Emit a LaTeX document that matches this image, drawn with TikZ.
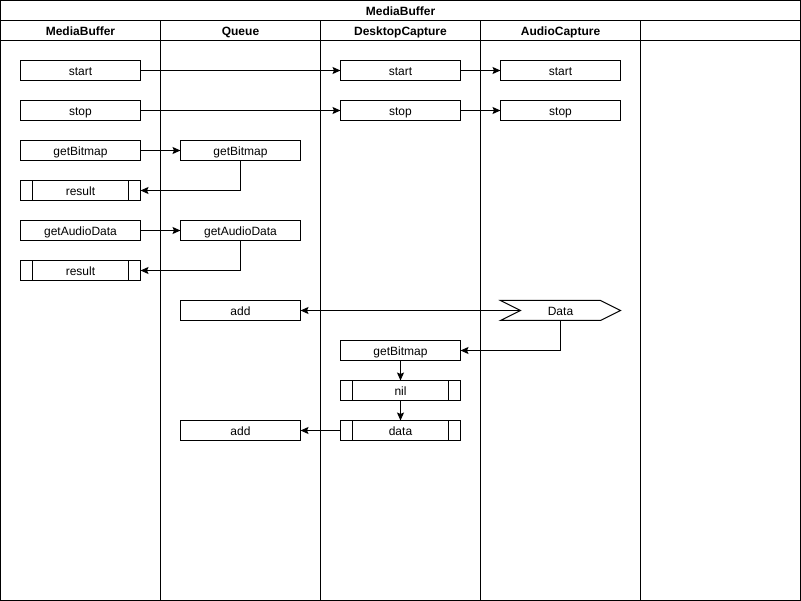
\documentclass[tikz,border=0pt]{standalone}
\usepackage{fontspec}
\setmainfont{Liberation Sans}
\usetikzlibrary{arrows.meta}
\begin{document}
\begin{tikzpicture}[x=1pt,y=-1pt,line width=1pt,
  font=\fontsize{12}{14}\selectfont,
  lbl/.style={text height=11pt,text depth=0pt,inner sep=0pt,outer sep=0pt},
  box/.style={lbl,draw,minimum width=120pt,minimum height=20pt,anchor=north west},
  procbox/.style={box,
    path picture={
      \draw[line width=1pt]
        ([xshift=12pt]path picture bounding box.north west) -- ([xshift=12pt]path picture bounding box.south west)
        ([xshift=-12pt]path picture bounding box.north east) -- ([xshift=-12pt]path picture bounding box.south east);}},
  flow/.style={draw,-{Stealth[length=8pt,width=7pt,inset=1.5pt]}},
  hdr/.style={lbl,font=\fontsize{12}{14}\selectfont\bfseries}]
\useasboundingbox (0,0) rectangle (801,601);

% pool frame, title and lane headers
\draw (0.5,0.5) rectangle (800.5,600.5);
\draw (0.5,20.5) -- (800.5,20.5);
\draw (0.5,40.5) -- (800.5,40.5);
\foreach \x in {160,320,480,640} \draw (\x.5,20.5) -- (\x.5,600.5);
\node[hdr] (title) at (400.5,10.5) {MediaBuffer};
\node[hdr] (hmb) at (80.5,30.5) {MediaBuffer};
\node[hdr] (hq) at (240.5,30.5) {Queue};
\node[hdr] (hdc) at (400.5,30.5) {DesktopCapture};
\node[hdr] (hac) at (560.5,30.5) {AudioCapture};

% MediaBuffer lane
\node[box] (mbstart) at (20.5,60.5) {start};
\node[box] (mbstop) at (20.5,100.5) {stop};
\node[box] (mbbmp) at (20.5,140.5) {getBitmap};
\node[procbox] (mbres1) at (20.5,180.5) {result};
\node[box] (mbaud) at (20.5,220.5) {getAudioData};
\node[procbox] (mbres2) at (20.5,260.5) {result};

% Queue lane
\node[box] (qbmp) at (180.5,140.5) {getBitmap};
\node[box] (qaud) at (180.5,220.5) {getAudioData};
\node[box] (qadd1) at (180.5,300.5) {add};
\node[box] (qadd2) at (180.5,420.5) {add};

% DesktopCapture lane
\node[box] (dcstart) at (340.5,60.5) {start};
\node[box] (dcstop) at (340.5,100.5) {stop};
\node[box] (dcbmp) at (340.5,340.5) {getBitmap};
\node[procbox] (dcnil) at (340.5,380.5) {nil};
\node[procbox] (dcdata) at (340.5,420.5) {data};

% AudioCapture lane
\draw (500.5,300.5) -- (600.5,300.5) -- (620.5,310.5) -- (600.5,320.5)
      -- (500.5,320.5) -- (520.5,310.5) -- cycle;
\node[box] (acstart) at (500.5,60.5) {start};
\node[box] (acstop) at (500.5,100.5) {stop};
\coordinate (datain) at (520.5,310.5);
\coordinate (databot) at (560.5,320.5);
\node[lbl] (acdata) at (560.5,310.5) {Data};

% connectors
\draw[flow] (mbstart) -- (dcstart);
\draw[flow] (dcstart) -- (acstart);
\draw[flow] (mbstop) -- (dcstop);
\draw[flow] (dcstop) -- (acstop);
\draw[flow] (mbbmp) -- (qbmp);
\draw[flow] (qbmp.south) |- (mbres1.east);
\draw[flow] (mbaud) -- (qaud);
\draw[flow] (qaud.south) |- (mbres2.east);
\draw[flow] (datain) -- (qadd1.east);
\draw[flow] (databot) |- (dcbmp.east);
\draw[flow] (dcbmp) -- (dcnil);
\draw[flow] (dcnil) -- (dcdata);
\draw[flow] (dcdata) -- (qadd2);
\end{tikzpicture}
\end{document}
